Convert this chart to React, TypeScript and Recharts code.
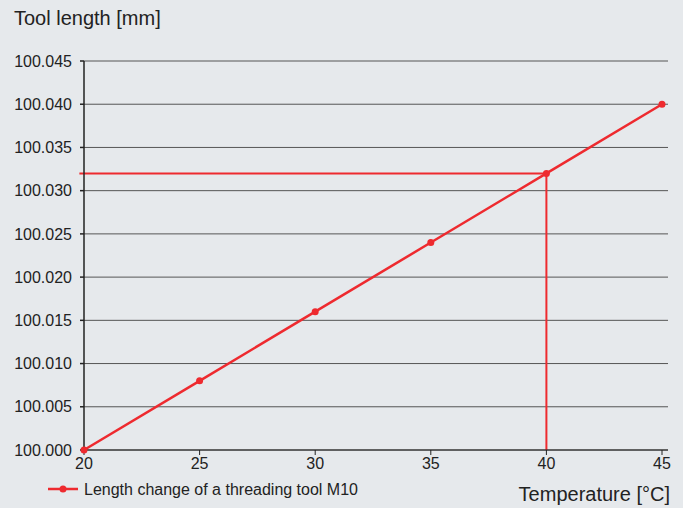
import React from 'react';
import { LineChart, Line, XAxis, YAxis, CartesianGrid, Legend, ReferenceLine, Label } from 'recharts';

const temps = [20, 25, 30, 35, 40, 45];
const lengths = [100.0, 100.008, 100.016, 100.024, 100.032, 100.04];
const yTicks = [100.0, 100.005, 100.01, 100.015, 100.02, 100.025, 100.03, 100.035, 100.04, 100.045];
const xTicks = [20, 25, 30, 35, 40, 45];
const markTemp = 40;
const markLength = 100.032;
const markStart = 19.8;

const data = temps.map((t, i) => ({ temp: t, length: lengths[i] }));

const RED = '#ee2a2f';
const FONT = '"Liberation Sans", Arial, sans-serif';

const LegendBox = () => (
    <svg width={330} height={24} style={{ display: 'block' }}>
        <line x1={8} y1={11} x2={38} y2={11} stroke={RED} strokeWidth={2.5} />
        <circle cx={23} cy={11} r={3.5} fill={RED} />
        <text x={44} y={17} fontFamily={FONT} fontSize={16} fill="#222">
            Length change of a threading tool M10
        </text>
    </svg>
);

export default () => {
    return (
        <div style={{ position: 'absolute', left: 0, top: 0, width: 683, height: 508, background: '#e6e9ec' }}>
            <LineChart width={683} height={508} data={data} margin={{ top: 61, right: 15, bottom: 28, left: 0 }}>
                <CartesianGrid vertical={false} stroke="#555" />
                <XAxis
                    dataKey="temp"
                    type="number"
                    domain={[20, 45]}
                    ticks={xTicks}
                    padding={{ left: 0, right: 6 }}
                    height={30}
                    tickSize={5}
                    tickMargin={3}
                    stroke="#222"
                    tick={{ fill: '#222', fontSize: 16, fontFamily: FONT }}
                >
                    <Label
                        content={() => (
                            <text x={670} y={501} textAnchor="end" fontFamily={FONT} fontSize={20} fill="#222">
                                Temperature [°C]
                            </text>
                        )}
                    />
                </XAxis>
                <YAxis
                    type="number"
                    domain={[100, 100.045]}
                    ticks={yTicks}
                    width={84}
                    tickSize={4}
                    tickMargin={8}
                    stroke="#222"
                    strokeWidth={1.5}
                    tickFormatter={(v) => v.toFixed(3)}
                    tick={{ fill: '#222', fontSize: 16, fontFamily: FONT }}
                >
                    <Label
                        content={() => (
                            <text x={14} y={25} fontFamily={FONT} fontSize={20} fill="#222">
                                Tool length [mm]
                            </text>
                        )}
                    />
                </YAxis>
                <ReferenceLine
                    segment={[{ x: markStart, y: markLength }, { x: markTemp, y: markLength }]}
                    stroke={RED}
                    strokeWidth={2}
                    ifOverflow="visible"
                />
                <ReferenceLine
                    segment={[{ x: markTemp, y: 100 }, { x: markTemp, y: markLength }]}
                    stroke={RED}
                    strokeWidth={2}
                    ifOverflow="visible"
                />
                <Legend
                    layout="horizontal"
                    verticalAlign="middle"
                    align="center"
                    content={() => <LegendBox />}
                    wrapperStyle={{ left: 40, top: 478, width: 'auto', height: 24 }}
                />
                <Line
                    dataKey="length"
                    name="Length change of a threading tool M10"
                    stroke={RED}
                    strokeWidth={2.5}
                    dot={{ r: 3.5, fill: RED, stroke: RED, strokeWidth: 0 }}
                    isAnimationActive={false}
                />
            </LineChart>
        </div>
    );
};
